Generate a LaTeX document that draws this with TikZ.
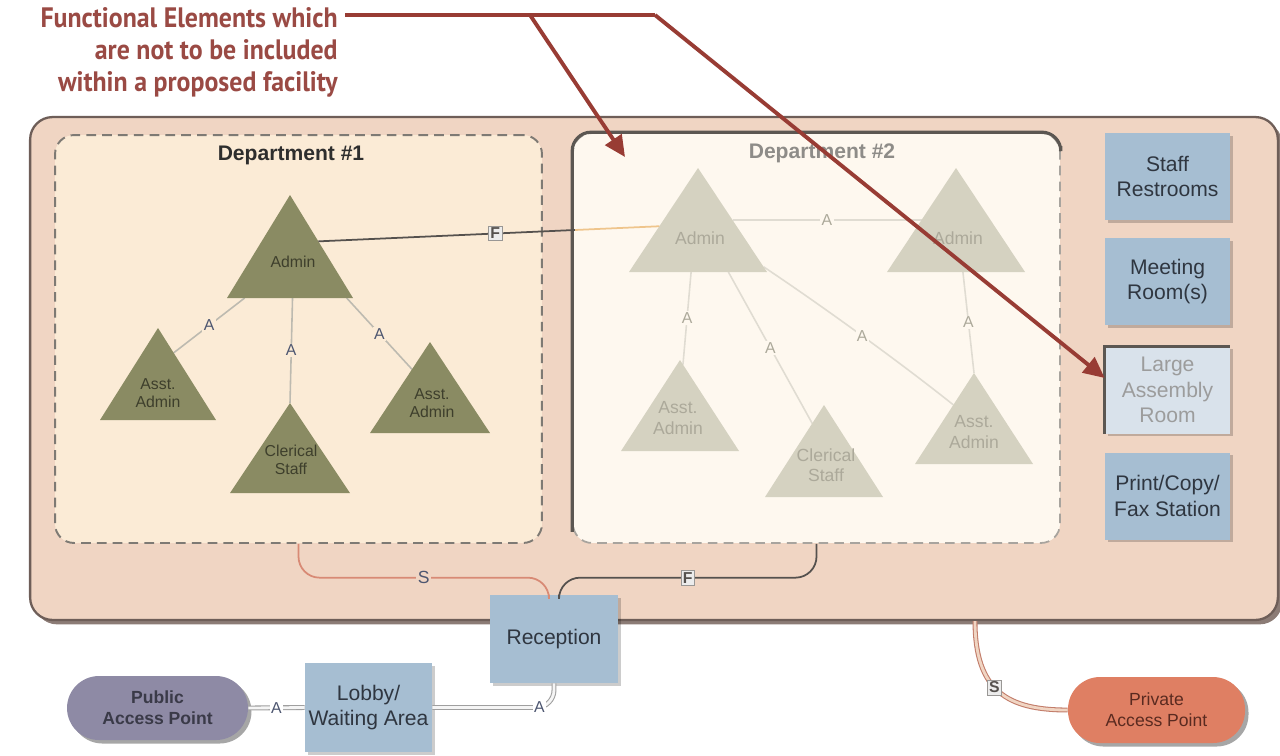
\documentclass[tikz,border=0pt]{standalone}
\usepackage{fontspec}
\setmainfont{Liberation Sans}
\newfontfamily\notefont[FakeStretch=0.92]{PT Sans}
\usetikzlibrary{arrows.meta,calc,shadows}

\definecolor{outerfill}{HTML}{F0D5C3}
\definecolor{outerline}{HTML}{6E5E58}
\definecolor{outershadow}{HTML}{8C7C76}
\definecolor{deptonefill}{HTML}{FBEBD6}
\definecolor{depttwofill}{HTML}{FEF8EF}
\definecolor{dashgray}{HTML}{7E7A74}
\definecolor{dashlight}{HTML}{A8A49E}
\definecolor{twoedge}{HTML}{5C5752}
\definecolor{titledark}{HTML}{2E2E2E}
\definecolor{titlefaint}{HTML}{8E8C88}
\definecolor{olive}{HTML}{8A8B63}
\definecolor{olivetext}{HTML}{3E3F2C}
\definecolor{faintolive}{HTML}{D5D2C1}
\definecolor{fainttext}{HTML}{ACA99A}
\definecolor{linkgray}{HTML}{BDBAB0}
\definecolor{faintlinkc}{HTML}{E0DCD2}
\definecolor{labelblue}{HTML}{4D5670}
\definecolor{roomblue}{HTML}{A6BED2}
\definecolor{roomtext}{HTML}{2F3640}
\definecolor{roomfaint}{HTML}{D9E2EB}
\definecolor{roomfainttext}{HTML}{9C9C9C}
\definecolor{leadred}{HTML}{983C34}
\definecolor{notered}{HTML}{9A4A44}
\definecolor{salmonline}{HTML}{D88A75}
\definecolor{darkline}{HTML}{55514E}
\definecolor{tanline}{HTML}{EFC58C}
\definecolor{publicfill}{HTML}{8E8AA5}
\definecolor{publictext}{HTML}{3A3A48}
\definecolor{privatefill}{HTML}{DF7F63}
\definecolor{privatetext}{HTML}{5A2A20}

\tikzset{
  outerbox/.style={fill=outerfill, draw=outerline, line width=1.3pt,
    rounded corners=0.45cm, inner sep=0pt,
    drop shadow={shadow xshift=2.5pt, shadow yshift=-2.5pt, fill=outershadow, opacity=1}},
  deptone/.style={fill=deptonefill, draw=dashgray, line width=1.1pt,
    dash pattern=on 5.5pt off 3.5pt, rounded corners=0.38cm, inner sep=0pt},
  depttwo/.style={fill=depttwofill, draw=dashlight, line width=1pt,
    dash pattern=on 5.5pt off 3.5pt, rounded corners=0.38cm, inner sep=0pt},
  depttitle/.style={font=\bfseries\fontsize{12}{14}\selectfont, text=titledark},
  room/.style={fill=roomblue, minimum width=2.5cm, minimum height=1.74cm,
    inner sep=2pt, align=center, font=\fontsize{12}{14.5}\selectfont, text=roomtext,
    drop shadow={shadow xshift=1.5pt, shadow yshift=-1.5pt, fill=black, opacity=0.2}},
  tritext/.style={font=\fontsize{9}{10.5}\selectfont, text=olivetext, align=center, inner sep=0pt},
  fainttri/.style={font=\fontsize{10}{11.5}\selectfont, text=fainttext, align=center, inner sep=0pt},
  link/.style={draw=linkgray, line width=0.9pt},
  faintlink/.style={draw=faintlinkc, line width=0.9pt},
  alabel/.style={font=\fontsize{9}{9}\selectfont, text=labelblue, fill=deptonefill, inner sep=0.8pt, sharp corners},
  faintlabel/.style={font=\fontsize{9}{9}\selectfont, text=fainttext, fill=depttwofill, inner sep=0.8pt, sharp corners},
  flabel/.style={font=\bfseries\fontsize{9}{9}\selectfont, text=darkline, fill=white!85!gray,
    draw=darkline!60, line width=0.4pt, inner sep=1pt, sharp corners},
  leader/.style={draw=leadred, line width=2.2pt},
  sline/.style={draw=salmonline, line width=1pt},
  fline/.style={draw=darkline, line width=1pt},
  aline/.style={draw=gray!75, double=white!92!gray, double distance=1.6pt, line width=0.6pt},
  pline/.style={draw=salmonline!90!black, double=outerfill, double distance=1.6pt, line width=0.6pt},
  access/.style={rounded corners=0.64cm, align=center, inner sep=2pt,
    drop shadow={shadow xshift=2pt, shadow yshift=-2pt, fill=black, opacity=0.35}},
}

% corner coordinates of a triangle: name, apex x, apex y, half base, height
\newcommand\tricoords[5]{%
  \path (#2,#3) coordinate (#1-t) ++(#4,#5) coordinate (#1-br) ++(-2*#4,0) coordinate (#1-bl);}
\newcommand\trifill[2]{\fill[#2] (#1-t) -- (#1-br) -- (#1-bl) -- cycle;}

\begin{document}
\begin{tikzpicture}[x=0.02cm,y=-0.02cm]
\useasboundingbox (0,0) rectangle (1280,755);
\fill[white] (0,0) rectangle (1280,755);

% facility outline and departments
\node[outerbox, minimum width=24.96cm, minimum height=10.06cm] (outer) at (654,368.5) {};
\node[deptone, minimum width=9.74cm, minimum height=8.16cm] (dept1) at (298.5,339) {};
\node[depttwo, minimum width=9.74cm, minimum height=8.2cm] (dept2) at (816.5,338) {};
\draw[twoedge, line width=1.8pt, rounded corners=0.38cm]
  ($(dept2.south west)+(0,-12)$) -- (dept2.north west) -- (dept2.north east) -- ($(dept2.north east)+(0,14)$);
\node[depttitle] (d1title) at (291,155) {Department \#1};
\node[depttitle, text=titlefaint] (d2title) at (822,153) {Department \#2};

% triangle geometry
\tricoords{d1a}{290}{195}{63}{103}
\tricoords{d1l}{158}{328}{58}{92}
\tricoords{d1c}{290}{403}{60}{90}
\tricoords{d1r}{430}{342}{60}{91}
\tricoords{d2a}{698}{168}{69}{104}
\tricoords{d2b}{956}{168}{69}{104}
\tricoords{d2l}{680}{360}{59}{91}
\tricoords{d2c}{824}{405}{59}{92}
\tricoords{d2r}{974}{373}{59}{91}

% links inside department 1
\draw[link] ($(d1a-bl)!0.14!(d1a-br)$) -- node[alabel]{A} ($(d1l-t)!0.27!(d1l-br)$);
\draw[link] ($(d1a-bl)!0.52!(d1a-br)$) -- node[alabel]{A} (d1c-t);
\draw[link] ($(d1a-bl)!0.95!(d1a-br)$) -- node[alabel]{A} ($(d1r-t)!0.3!(d1r-bl)$);

% links inside department 2
\draw[faintlink] ($(d2a-t)!0.5!(d2a-br)$) -- node[faintlabel]{A} ($(d2b-t)!0.5!(d2b-bl)$);
\draw[faintlink] ($(d2a-bl)!0.45!(d2a-br)$) -- node[faintlabel]{A} ($(d2l-t)!0.05!(d2l-br)$);
\draw[faintlink] ($(d2a-bl)!0.72!(d2a-br)$) -- node[faintlabel]{A} ($(d2c-t)!0.2!(d2c-bl)$);
\draw[faintlink] ($(d2a-t)!0.95!(d2a-br)$) .. controls +(60,40) and +(-50,-40) .. node[faintlabel, pos=0.5]{A} ($(d2r-t)!0.35!(d2r-bl)$);
\draw[faintlink] ($(d2b-bl)!0.55!(d2b-br)$) -- node[faintlabel]{A} (d2r-t);

% triangles
\trifill{d1a}{olive}
\trifill{d1l}{olive}
\trifill{d1c}{olive}
\trifill{d1r}{olive}
\trifill{d2a}{faintolive}
\trifill{d2b}{faintolive}
\trifill{d2l}{faintolive}
\trifill{d2c}{faintolive}
\trifill{d2r}{faintolive}

\node[tritext] (d1admin) at (293,262) {Admin};
\node[tritext] (d1asstl) at (158,393) {Asst.\\Admin};
\node[tritext] (d1cler) at (291,460) {Clerical\\Staff};
\node[tritext] (d1asstr) at (432,403) {Asst.\\Admin};
\node[fainttri] (d2admin) at (700,238) {Admin};
\node[fainttri] (d2adminb) at (958,238) {Admin};
\node[fainttri] (d2asstl) at (678,418) {Asst.\\Admin};
\node[fainttri] (d2cler) at (826,465) {Clerical\\Staff};
\node[fainttri] (d2asstr) at (974,432) {Asst.\\Admin};

% link between the two admin units
\coordinate (fa) at ($(d1a-t)!0.45!(d1a-br)$);
\coordinate (fb) at ($(d2a-t)!0.56!(d2a-bl)$);
\coordinate (fm) at ($(fa)!0.752!(fb)$);
\draw[tanline, line width=1pt] (fm) -- (fb);
\draw[darkline, line width=1pt] (fa) -- node[flabel, pos=0.69]{F} (fm);

% support rooms
\node[room] (staff) at (1167.5,176.5) {Staff\\Restrooms};
\node[room] (meeting) at (1167.5,281.5) {Meeting\\Room(s)};
\node[room, fill=roomfaint, text=roomfainttext] (large) at (1167.5,390) {Large\\Assembly\\Room};
\draw[twoedge, line width=1.8pt] (large.south west) -- (large.north west) -- (large.north east);
\node[room] (print) at (1167.5,496) {Print/Copy/\\Fax Station};

% reception and links to the departments
\node[room, minimum width=2.56cm, minimum height=1.76cm] (rec) at (554,639) {Reception};
\draw[sline, rounded corners=12] (dept1.south) |- node[pos=0.75, font=\fontsize{10}{10}\selectfont, text=labelblue, fill=outerfill, inner sep=1pt, sharp corners]{S} ($(rec.north)+(-5,-17)$) -- ($(rec.north)+(-5,0)$);
\draw[fline, rounded corners=12] (dept2.south) |- node[pos=0.75, flabel]{F} ($(rec.north)+(5,-17)$) -- ($(rec.north)+(5,0)$);

% public side
\node[room, minimum width=2.54cm, minimum height=1.78cm] (lobby) at (368.5,707.5) {Lobby/\\Waiting Area};
\node[access, fill=publicfill, minimum width=3.62cm, minimum height=1.28cm,
  font=\bfseries\fontsize{10}{12}\selectfont, text=publictext] (pub) at (157.5,708) {Public\\Access Point};
\draw[aline] (pub.east) -- node[alabel, fill=white]{A} (lobby.west);
\draw[aline, rounded corners=10] (lobby.east) -| node[alabel, fill=white, pos=0.44]{A} (rec.south);

% private side
\node[access, fill=privatefill, minimum width=3.54cm, minimum height=1.32cm,
  font=\fontsize{10}{12}\selectfont, text=privatetext] (priv) at (1156.5,710) {Private\\Access Point};
\coordinate (privout) at ($(outer.south)+(321,0)$);
\draw[pline] (privout) .. controls +(0,70) and +(-60,0) .. node[pos=0.45, flabel]{S} (priv.west);

% annotation and leaders
\node[anchor=north east, align=right, text=notered,
  font=\notefont\bfseries\fontsize{16}{18.2}\selectfont, inner sep=0pt] (note) at (338,7)
  {Functional Elements which\\are not to be included\\within a proposed facility};
\coordinate (lead0) at (345,15);
\coordinate (leadb) at (530,15);
\coordinate (lead1) at (655,15);
\coordinate (tip1) at (625,157);
\draw[leader] (lead0) -- (lead1);
\draw[leader, -{Triangle[length=12pt,width=11pt]}] (leadb) -- (tip1);
\draw[leader, -{Triangle[length=12pt,width=11pt]}] (lead1) -- ($(large.west)+(0,-12)$);
\end{tikzpicture}
\end{document}
